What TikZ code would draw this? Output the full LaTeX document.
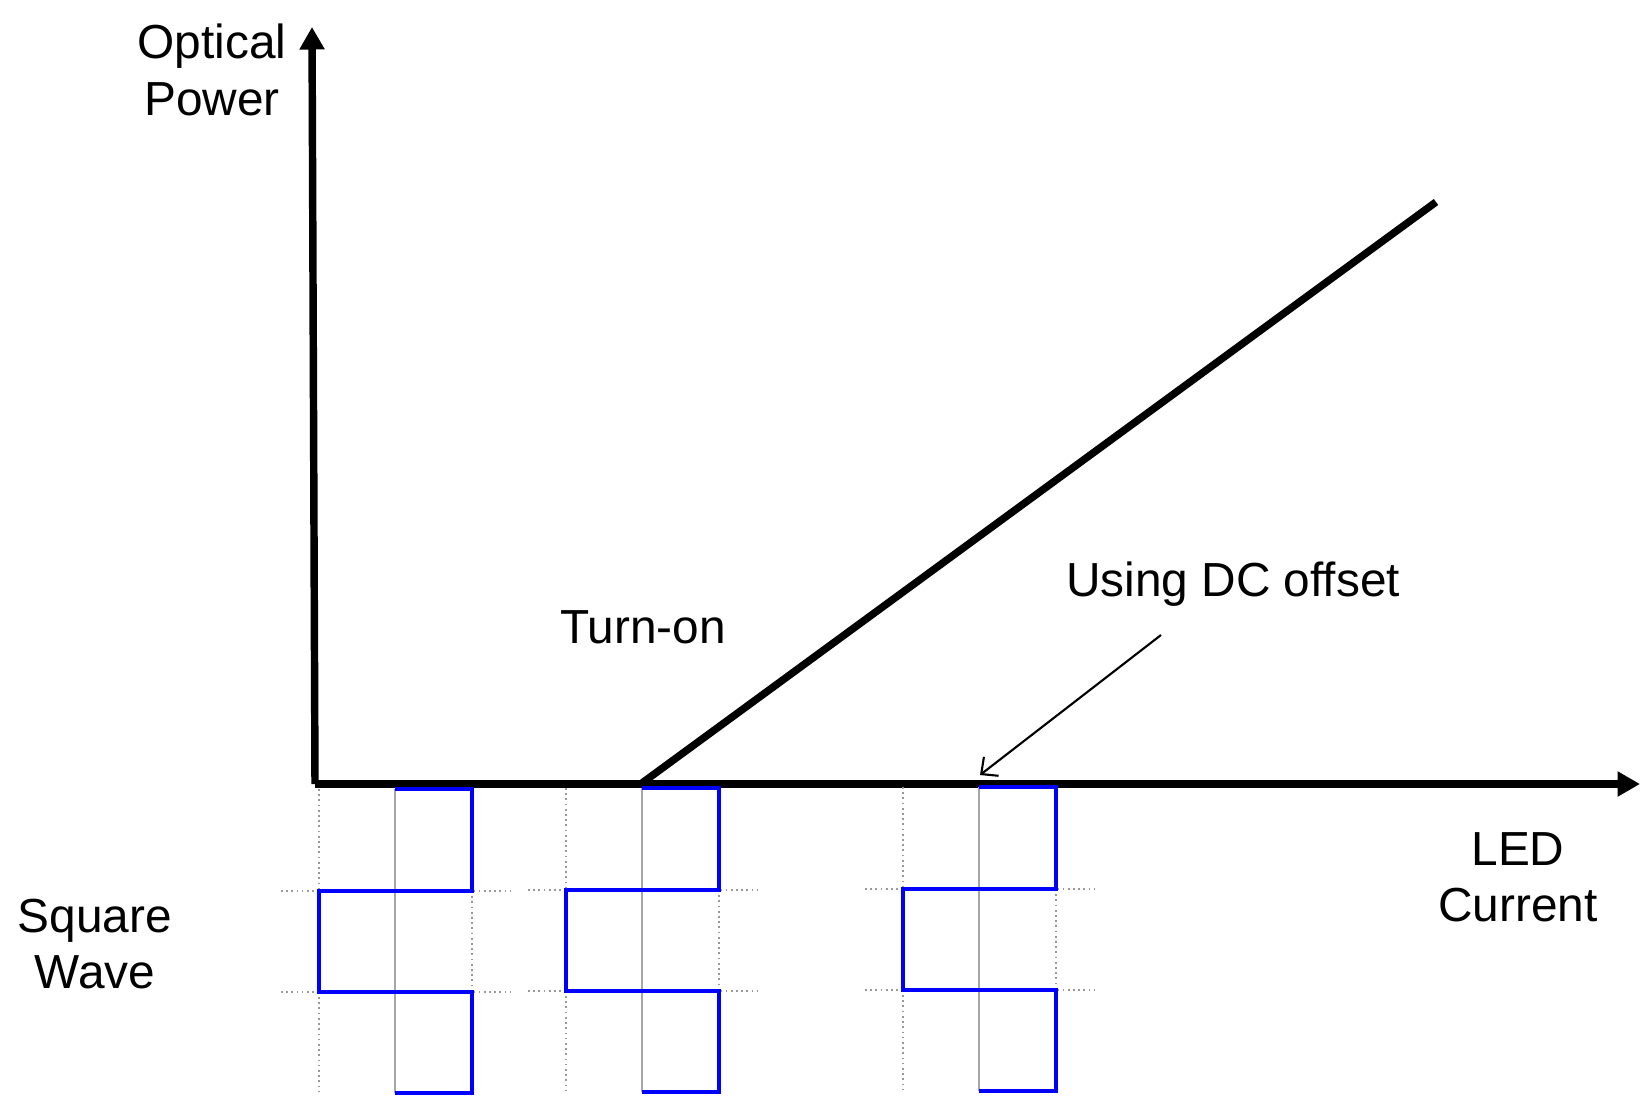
\documentclass[tikz,border=0pt]{standalone}
\usepackage{fontspec}
\setmainfont{Liberation Sans}
\usetikzlibrary{arrows.meta}
\begin{document}
\begin{tikzpicture}[x=0.25mm,y=-0.25mm,
 axisline/.style={line width=5.3pt, -{Triangle[length=16pt,width=17pt]}},
 curveline/.style={line width=5.3pt},
 wave/.style={blue, line width=2.8pt, line join=miter},
 centerline/.style={gray!70, line width=1.6pt},
 guide/.style={gray!80, line width=1.2pt, dash pattern=on 1.2pt off 2.5pt},
 pointer/.style={line width=1.5pt, -{Straight Barb[length=9pt,width=17pt]}},
 lbl/.style={font=\fontsize{34}{40}\selectfont, inner sep=0pt, align=center}]
\useasboundingbox (0,0) rectangle (1652,1110);
% axes
\coordinate (origin) at (315,784);
\coordinate (ytip) at (312,27);
\coordinate (xtip) at (1640,784);
\draw[axisline] (origin) -- (ytip);
\draw[axisline] (origin) -- (xtip);
% LED characteristic
\coordinate (knee) at (642,783);
\coordinate (lineend) at (1436,202);
\draw[curveline] (knee) -- (lineend);
% square waves
\foreach \c/\t [count=\i] in {395/789, 642/788, 979/787}{
  \pgfmathsetmacro{\L}{\c-76}
  \pgfmathsetmacro{\R}{\c+77}
  \pgfmathsetmacro{\ma}{\t+102}
  \pgfmathsetmacro{\mb}{\t+203}
  \pgfmathsetmacro{\bt}{\t+304}
  \draw[guide] (\L,\t) -- (\L,\bt);
  \draw[guide] (\R,\ma) -- (\R,\mb);
  \draw[guide] (\L-38,\ma) -- (\R+38,\ma);
  \draw[guide] (\L-38,\mb) -- (\R+38,\mb);
  \draw[centerline] (\c,\t) -- (\c,\bt);
  \draw[wave] (\c,\t) -- (\R,\t) -- (\R,\ma) -- (\L,\ma) -- (\L,\mb)
     -- (\R,\mb) -- (\R,\bt) -- (\c,\bt);
}
% labels
\node[lbl] (ylabel) at (212,70) {Optical\\Power};
\node[lbl] (xlabel) at (1518,877) {LED\\Current};
\node[lbl] (sqlabel) at (95,944) {Square\\Wave};
\node[lbl, anchor=base] (turnon) at (643,643) {Turn-on};
\node[lbl, anchor=base] (dclabel) at (1233,596) {Using DC offset};
\coordinate (pstart) at (1161,635);
\coordinate (pend) at (980,775);
\draw[pointer] (pstart) -- (pend);
\end{tikzpicture}
\end{document}
